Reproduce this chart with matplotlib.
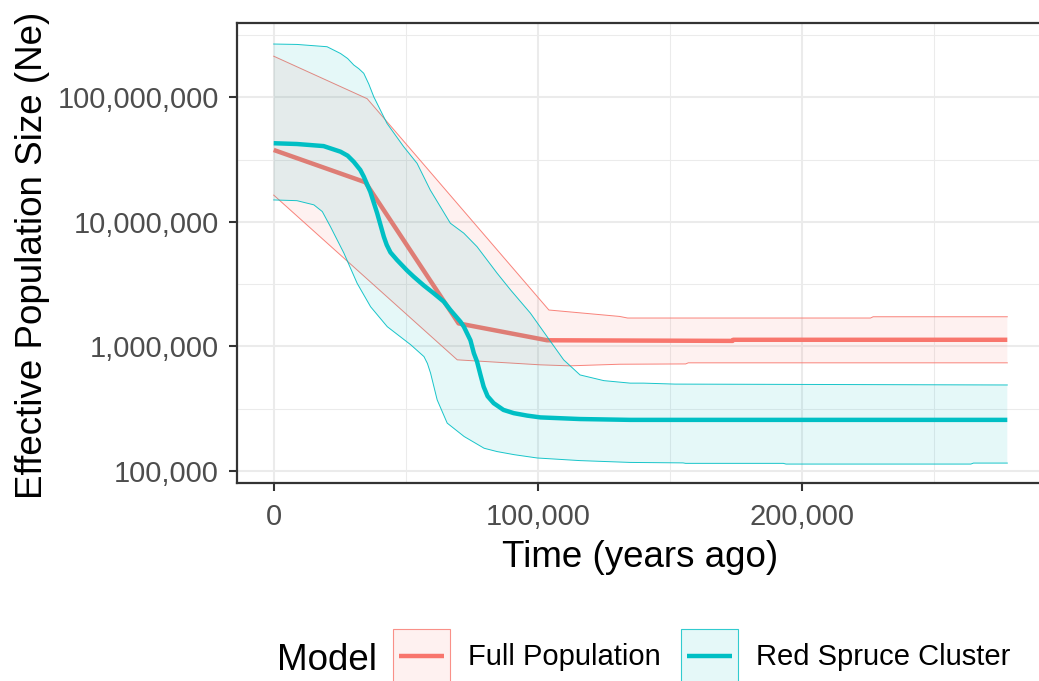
import numpy as np
import matplotlib
matplotlib.use("Agg")
import matplotlib.pyplot as plt
from matplotlib.ticker import FixedLocator, MultipleLocator, FuncFormatter, NullFormatter
from matplotlib.legend_handler import HandlerBase
from matplotlib.patches import Rectangle
from matplotlib.lines import Line2D
from matplotlib.colors import to_rgba

plt.rcParams['font.family'] = ['Liberation Sans', 'DejaVu Sans']

# ---------------- data ----------------
models = ["Full Population", "Red Spruce Cluster"]
colors = ["#F8766D", "#00BFC4"]

# Full Population
full_t = [0, 34700, 70000, 103500, 173800, 174000, 277800]
full_ne = [3.78e7, 2.08e7, 1.53e6, 1.12e6, 1.107e6, 1.13e6, 1.13e6]
full_up_t = [0, 35400, 104200, 131000, 134000, 226000, 227000, 277800]
full_up_ne = [2.14e8, 9.75e7, 1.96e6, 1.74e6, 1.69e6, 1.69e6, 1.73e6, 1.73e6]
full_lo_t = [0, 69500, 101000, 112000, 131000, 156000, 157000, 277800]
full_lo_ne = [1.64e7, 7.80e5, 7.11e5, 6.98e5, 7.19e5, 7.23e5, 7.38e5, 7.38e5]

# Red Spruce Cluster
rs_t = [0, 8800, 18900, 25300, 28000, 30300, 32800, 34100, 36600, 39200, 41700,
        42800, 44200, 46700, 50500, 53000, 56800, 60600, 64400, 66900, 70700,
        72000, 74500, 75800, 77000, 78300, 79500, 81000, 83300, 87000, 90900,
        96000, 101000, 116000, 135000, 277800]
rs_ne = [4.28e7, 4.22e7, 4.06e7, 3.66e7, 3.40e7, 3.04e7, 2.61e7, 2.31e7, 1.74e7,
         1.17e7, 7.60e6, 6.53e6, 5.69e6, 4.94e6, 4.07e6, 3.63e6, 3.09e6, 2.67e6,
         2.29e6, 1.96e6, 1.58e6, 1.44e6, 1.12e6, 8.81e5, 7.55e5, 5.90e5, 4.75e5,
         3.98e5, 3.50e5, 3.09e5, 2.91e5, 2.78e5, 2.69e5, 2.61e5, 2.57e5, 2.57e5]
rs_up_t = [0, 8800, 20200, 25300, 28000, 30300, 32200, 34100, 36000, 37900, 42900,
           49200, 54300, 59300, 66900, 72000, 77000, 84600, 89700, 97200, 103500,
           109800, 116000, 125000, 135000, 140000, 152000, 277800]
rs_up_ne = [2.68e8, 2.66e8, 2.55e8, 2.25e8, 2.05e8, 1.82e8, 1.70e8, 1.56e8,
            1.28e8, 1.01e8, 6.18e7, 4.02e7, 2.95e7, 1.80e7, 9.75e6, 8.11e6,
            6.32e6, 3.87e6, 2.84e6, 1.85e6, 1.20e6, 7.80e5, 5.90e5, 5.31e5,
            5.07e5, 5.07e5, 4.98e5, 4.90e5]
rs_lo_t = [0, 8800, 15200, 18400, 21500, 26600, 31600, 36700, 43000, 51900, 56900,
           58200, 59400, 61900, 65700, 72100, 79700, 84600, 91100, 99800, 116000,
           135000, 155000, 156000, 193000, 194000, 264000, 265000, 277800]
rs_lo_ne = [1.50e7, 1.48e7, 1.37e7, 1.21e7, 9.14e6, 5.60e6, 3.21e6, 2.08e6, 1.44e6,
            1.03e6, 8.28e5, 7.30e5, 6.10e5, 3.72e5, 2.42e5, 1.89e5, 1.52e5,
            1.43e5, 1.35e5, 1.27e5, 1.21e5, 1.17e5, 1.16e5, 1.15e5, 1.15e5,
            1.135e5, 1.135e5, 1.156e5, 1.156e5]

x_major = [0, 100000, 200000]
y_major = [1e5, 1e6, 1e7, 1e8]

# ---------------- figure ----------------
W, H = 1039, 681
fig = plt.figure(figsize=(W / 100, H / 100), dpi=100)
ax = fig.add_axes([237 / W, 1 - 483 / H, (1044 - 237) / W, (483 - 23) / H])

ax.set_yscale('log')
ax.set_xlim(-13900, 291700)
ax.set_ylim(10 ** 4.903, 10 ** 8.597)

series = [
    (full_t, full_ne, full_up_t, full_up_ne, full_lo_t, full_lo_ne),
    (rs_t, rs_ne, rs_up_t, rs_up_ne, rs_lo_t, rs_lo_ne),
]
line_objs = []
for i, (t, ne, ut, une, lt, lne) in enumerate(series):
    c = colors[i]
    z = 2 + i * 3
    px = np.concatenate([np.array(ut, float), np.array(lt, float)[::-1]])
    py = np.concatenate([np.array(une, float), np.array(lne, float)[::-1]])
    ax.fill(px, py, facecolor=to_rgba(c, 0.1), edgecolor='none', zorder=z)
    ax.plot(ut, une, color=c, lw=0.7, alpha=0.9, zorder=z + 0.1)
    ax.plot(lt, lne, color=c, lw=0.7, alpha=0.9, zorder=z + 0.1)
    ln, = ax.plot(t, ne, color=c, lw=3.2, solid_capstyle='butt',
                  solid_joinstyle='round', zorder=z + 0.2)
    line_objs.append(ln)

# grid / ticks
ax.xaxis.set_major_locator(FixedLocator(x_major))
ax.xaxis.set_minor_locator(MultipleLocator(50000))
ax.yaxis.set_major_locator(FixedLocator(y_major))
ax.yaxis.set_minor_locator(FixedLocator([10 ** 4.5, 10 ** 5.5, 10 ** 6.5, 10 ** 7.5, 10 ** 8.5]))
fmt = FuncFormatter(lambda v, p: f"{v:,.0f}")
ax.xaxis.set_major_formatter(fmt)
ax.yaxis.set_major_formatter(fmt)
ax.yaxis.set_minor_formatter(NullFormatter())
ax.xaxis.set_minor_formatter(NullFormatter())

ax.set_axisbelow(True)
ax.grid(which='major', color='#EBEBEB', lw=1.5)
ax.grid(which='minor', color='#EBEBEB', lw=0.75)
ax.tick_params(which='minor', length=0)
ax.tick_params(which='major', length=5.8, width=1.5, color='#333333',
               labelsize=21, labelcolor='#4D4D4D')
ax.tick_params(axis='y', pad=7.2)
ax.tick_params(axis='x', pad=8.5)
for s in ax.spines.values():
    s.set_color('#333333')
    s.set_linewidth(1.6)

# axis titles
fig.text(640.5 / W, 1 - 566.7 / H, "Time (years ago)", ha='center', va='baseline',
         fontsize=26.5, color='black')
fig.text(33 / W, 1 - 255 / H, "Effective Population Size (Ne)", ha='center',
         va='center', rotation=90, fontsize=26.5, color='black')


# legend
class RibbonLineHandler(HandlerBase):
    def create_artists(self, legend, orig_handle, xdescent, ydescent, width,
                       height, fontsize, trans):
        c = orig_handle.get_color()
        rect = Rectangle((-xdescent, -ydescent), width, height,
                         facecolor=to_rgba(c, 0.1), edgecolor=to_rgba(c, 0.8),
                         lw=0.8, transform=trans)
        y = -ydescent + height / 2
        ln = Line2D([-xdescent + 0.1 * width, -xdescent + 0.9 * width], [y, y],
                    color=c, lw=3.2, solid_capstyle='butt', transform=trans)
        return [rect, ln]


h = RibbonLineHandler()
fig.legend(line_objs, models, loc='center left',
           bbox_to_anchor=(393 / W, 1 - 656 / H), ncol=2, frameon=False,
           fontsize=21, handlelength=1.95, handleheight=2.45,
           handletextpad=0.62, columnspacing=0.69, borderpad=0,
           borderaxespad=0, handler_map={line_objs[0]: h, line_objs[1]: h})
fig.text(277 / W, 1 - 670 / H, "Model", ha='left', va='baseline', fontsize=26.5,
         color='black')

fig.savefig("out.png", dpi=100)
